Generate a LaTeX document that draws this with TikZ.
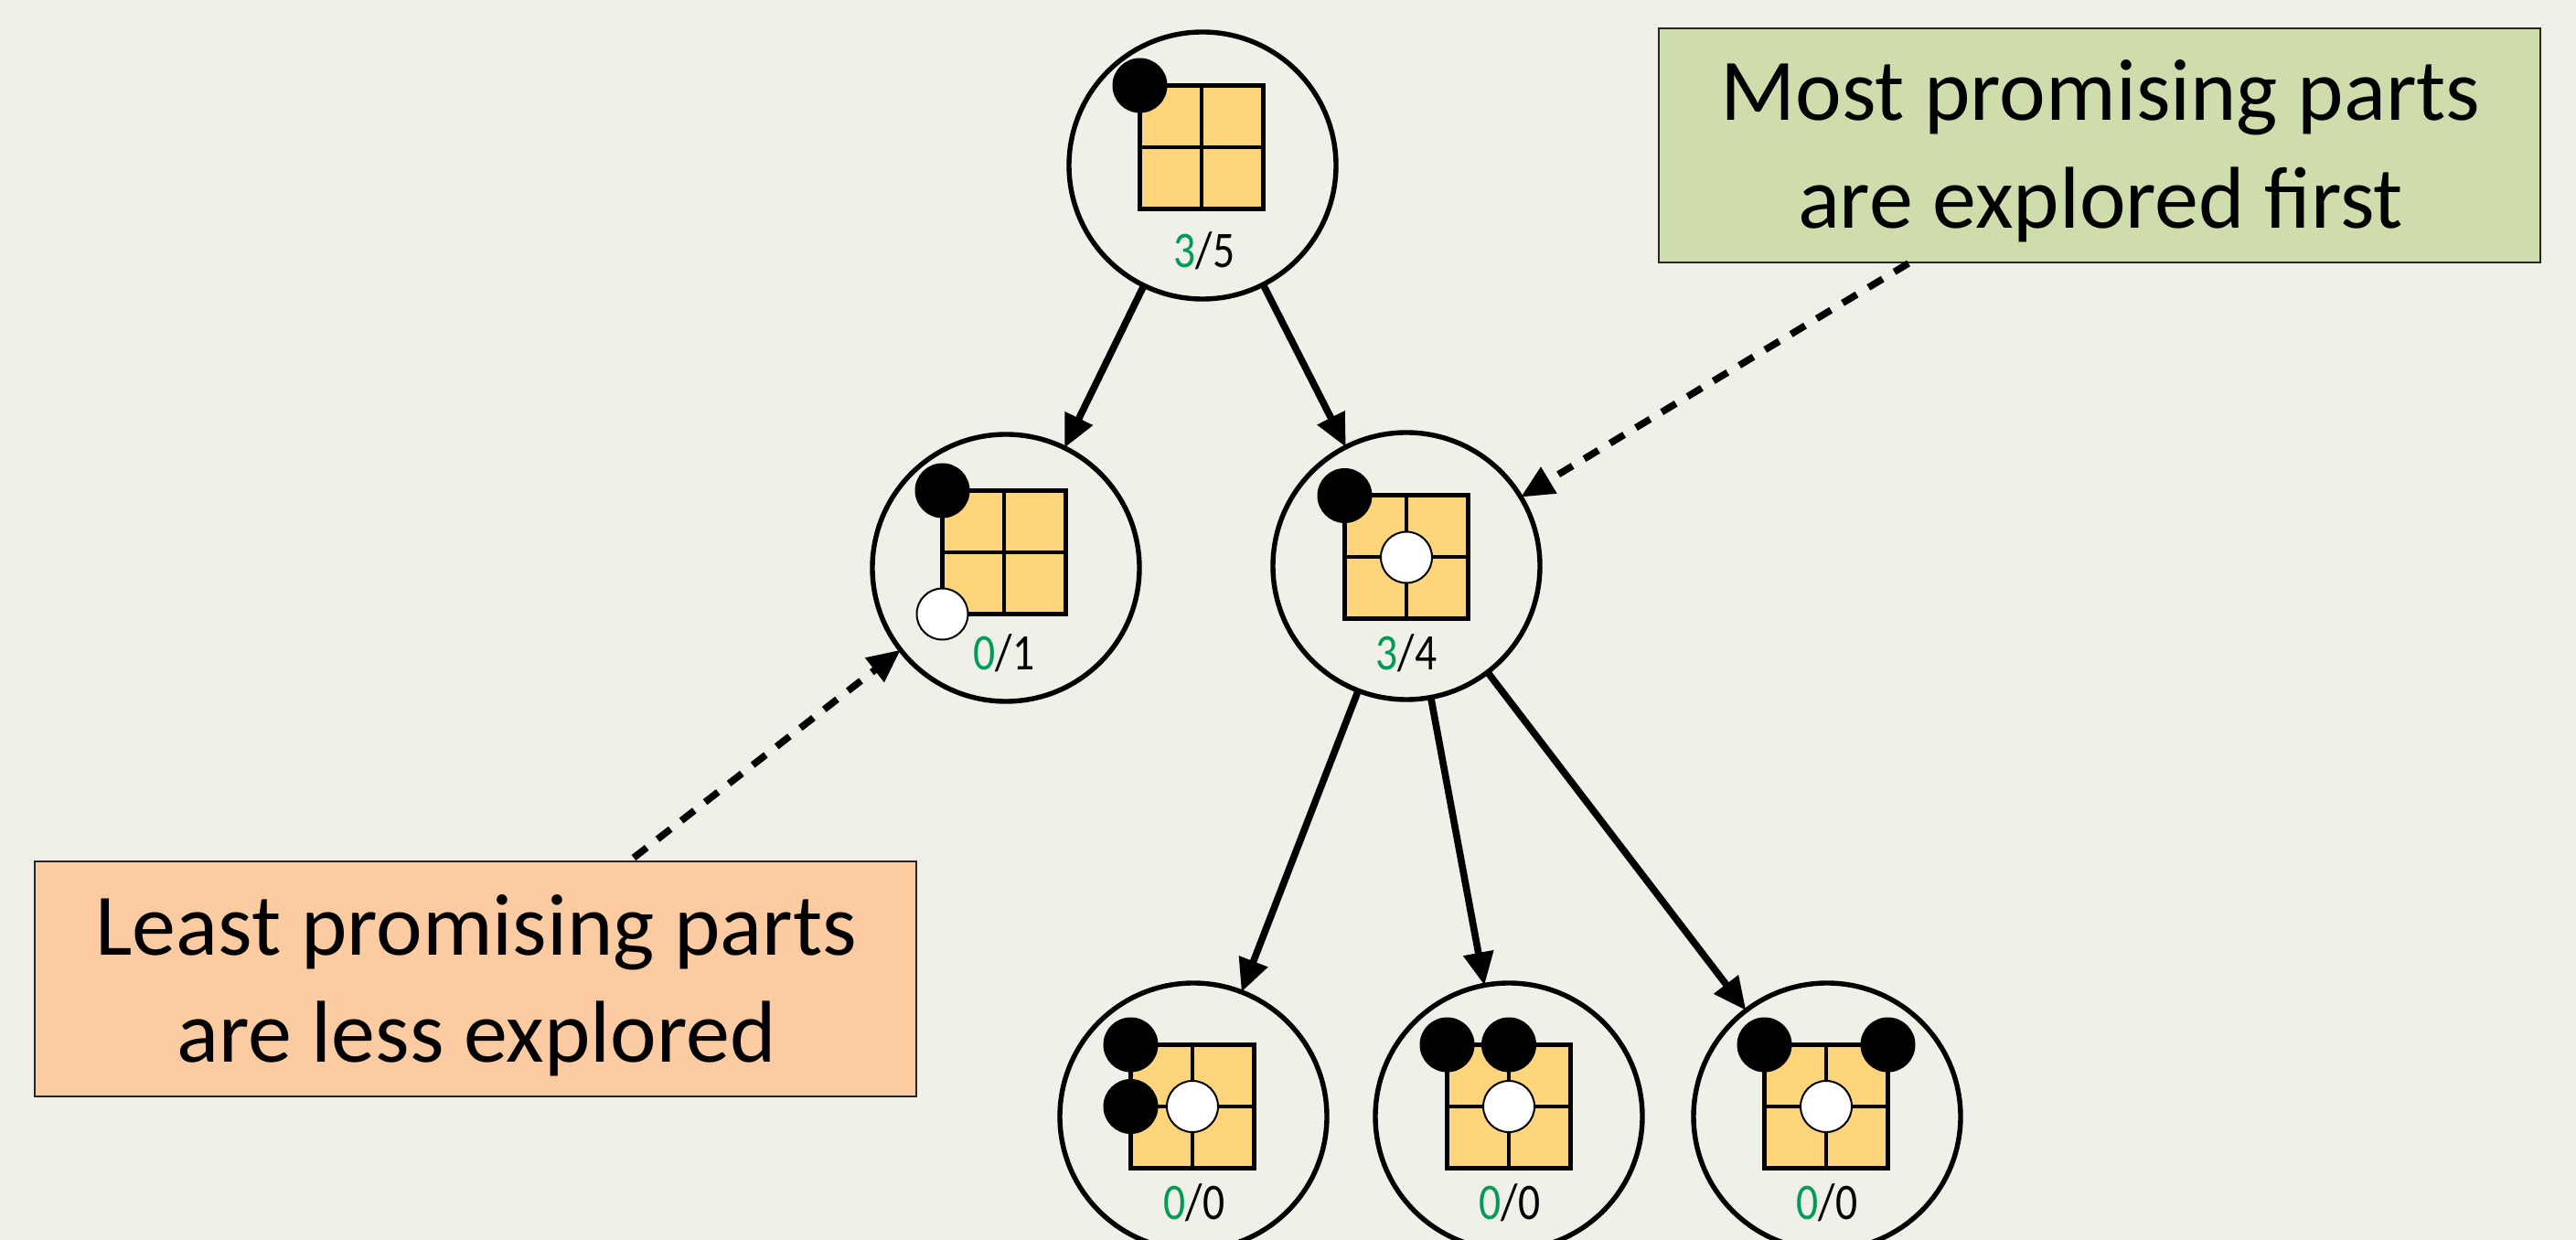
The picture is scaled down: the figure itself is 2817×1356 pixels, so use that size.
\documentclass[tikz,border=0pt]{standalone}
\usepackage{fontspec}
\setmainfont{Carlito}
\newfontfamily\labelfont[FakeStretch=0.85]{Carlito}
\usetikzlibrary{arrows.meta}

\definecolor{bgc}{HTML}{F0F0E8}
\definecolor{boardc}{HTML}{FFD57C}
\definecolor{scoregreen}{HTML}{009B55}
\definecolor{goodbox}{HTML}{CFDDAD}
\definecolor{badbox}{HTML}{FCCBA1}

\tikzset{
  state/.style={circle, draw=black, line width=1.35pt, fill=bgc,
    minimum size=73pt, inner sep=0pt, outer sep=0pt},
  grid line/.style={line width=1pt, draw=black},
  board edge/.style={line width=1.25pt, draw=black},
  bstone/.style={fill=black},
  wstone/.style={fill=white, draw=black, line width=0.5pt},
  move/.style={line width=1.9pt, -{Triangle[length=9pt,width=8pt]}},
  note/.style={line width=1.9pt, dash pattern=on 4.5pt off 3.75pt,
    -{Triangle[length=9pt,width=8pt]}},
  callout/.style={draw=black!85, line width=0.5pt, minimum width=241pt,
    minimum height=64pt, inner sep=0pt},
  calltext/.style={anchor=base, inner sep=0pt,
    font=\fontsize{24pt}{28pt}\selectfont},
  score/.style={anchor=base, inner sep=0pt,
    font=\labelfont\fontsize{14pt}{16pt}\selectfont},
}

% 2x2 go board centred at #1
\newcommand\goboard[1]{%
  \begin{scope}[shift={#1}]
    \fill[boardc] (-67.5,-67.5) rectangle (67.5,67.5);
    \draw[grid line] (0,-67.5) -- (0,67.5) (-67.5,0) -- (67.5,0);
    \draw[board edge] (-67.5,-67.5) rectangle (67.5,67.5);
  \end{scope}}
\newcommand\bstone[1]{\fill[bstone] #1 circle (30);}
\newcommand\wstone[1]{\filldraw[wstone] #1 circle (28);}

\begin{document}
\begin{tikzpicture}[x=0.25pt,y=-0.25pt]
  \useasboundingbox (0,0) rectangle (2817,1356);
  \clip (0,0) rectangle (2817,1356);
  \fill[bgc] (0,0) rectangle (2817,1356);

  % tree nodes
  \node[state] (root)  at (1315,181)  {};
  \node[state] (left)  at (1100,621)  {};
  \node[state] (right) at (1538,619)  {};
  \node[state] (leafa) at (1305,1221) {};
  \node[state] (leafb) at (1650,1221) {};
  \node[state] (leafc) at (1998,1221) {};

  % root position
  \goboard{(1314,161)}
  \bstone{(1246.5,93.5)}
  \node[score] (root-score) at (1317,293) {\textcolor{scoregreen}{3}/5};

  % left child
  \goboard{(1098,604)}
  \bstone{(1030.5,536.5)}
  \wstone{(1030.5,671.5)}
  \node[score] (left-score) at (1098,733) {\textcolor{scoregreen}{0}/1};

  % right child
  \goboard{(1538,609.5)}
  \bstone{(1470.5,542)}
  \wstone{(1538,609.5)}
  \node[score] (right-score) at (1538,733) {\textcolor{scoregreen}{3}/4};

  % leaves
  \goboard{(1304,1210)}
  \bstone{(1236.5,1142.5)}
  \bstone{(1236.5,1210)}
  \wstone{(1304,1210)}
  \node[score] (leafa-score) at (1306,1333) {\textcolor{scoregreen}{0}/0};

  \goboard{(1650,1210)}
  \bstone{(1582.5,1142.5)}
  \bstone{(1650,1142.5)}
  \wstone{(1650,1210)}
  \node[score] (leafb-score) at (1651,1333) {\textcolor{scoregreen}{0}/0};

  \goboard{(1997,1210)}
  \bstone{(1929.5,1142.5)}
  \bstone{(2064.5,1142.5)}
  \wstone{(1997,1210)}
  \node[score] (leafc-score) at (1998,1333) {\textcolor{scoregreen}{0}/0};

  % tree edges
  \draw[move] (root)  -- (left);
  \draw[move] (root)  -- (right);
  \draw[move] (right) -- (leafa);
  \draw[move] (right) -- (leafb);
  \draw[move] (right) -- (leafc);

  % callouts
  \node[callout, fill=goodbox] (most) at (2296,159) {};
  \node[calltext] (most-a) at (2297,132) {Most promising parts};
  \node[calltext] (most-b) at (2297,250) {are explored first};

  \node[callout, fill=badbox] (least) at (520,1070.5) {};
  \node[calltext] (least-a) at (521,1045) {Least promising parts};
  \node[calltext] (least-b) at (521,1162) {are less explored};

  \coordinate (most-tail)  at (2087,288);
  \coordinate (least-tail) at (693,938);
  \draw[note] (most-tail)  -- (right);
  \draw[note] (least-tail) -- (left);
\end{tikzpicture}
\end{document}
